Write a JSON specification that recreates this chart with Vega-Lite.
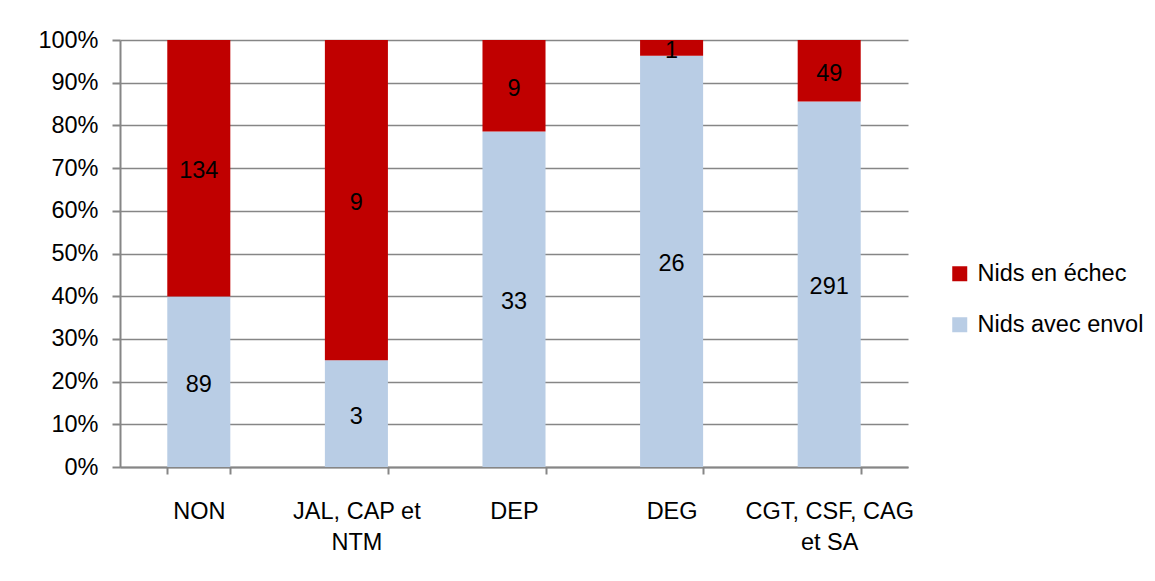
{
  "$schema": "https://vega.github.io/schema/vega-lite/v6.json",
  "autosize": {"type": "none"},
  "width": 788,
  "height": 427,
  "padding": {"left": 120, "top": 40, "right": 247, "bottom": 114},
  "background": "white",
  "config": {
    "view": {"stroke": null},
    "font": "Liberation Sans",
    "axis": {
      "labelFont": "Liberation Sans",
      "labelFontSize": 23.5,
      "labelColor": "#000000",
      "domainColor": "#868686",
      "tickColor": "#868686",
      "gridColor": "#868686",
      "domainWidth": 2,
      "tickWidth": 2,
      "gridWidth": 1.5,
      "title": null
    }
  },
  "data": {
    "values": [
      {"cat": "NON", "type": "Nids avec envol", "n": 89},
      {"cat": "NON", "type": "Nids en échec", "n": 134},
      {"cat": "JAL, CAP et NTM", "type": "Nids avec envol", "n": 3},
      {"cat": "JAL, CAP et NTM", "type": "Nids en échec", "n": 9},
      {"cat": "DEP", "type": "Nids avec envol", "n": 33},
      {"cat": "DEP", "type": "Nids en échec", "n": 9},
      {"cat": "DEG", "type": "Nids avec envol", "n": 26},
      {"cat": "DEG", "type": "Nids en échec", "n": 1},
      {"cat": "CGT, CSF, CAG et SA", "type": "Nids avec envol", "n": 291},
      {"cat": "CGT, CSF, CAG et SA", "type": "Nids en échec", "n": 49}
    ]
  },
  "transform": [
    {"stack": "n", "groupby": ["cat"], "sort": [{"field": "type", "order": "ascending"}], "offset": "normalize", "as": ["y0", "y1"]},
    {"calculate": "(datum.y0 + datum.y1) / 2", "as": "ymid"}
  ],
  "encoding": {
    "x": {
      "field": "cat",
      "type": "nominal",
      "sort": null,
      "scale": {"paddingInner": 0.6, "paddingOuter": 0.3},
      "axis": {
        "labelAngle": 0,
        "tickBand": "extent",
        "tickSize": 7,
        "labelPadding": 25,
        "labelLineHeight": 31,
        "labelBaseline": "top",
        "labelExpr": "datum.label == 'JAL, CAP et NTM' ? ['JAL, CAP et', 'NTM'] : datum.label == 'CGT, CSF, CAG et SA' ? ['CGT, CSF, CAG', 'et SA'] : datum.label"
      }
    }
  },
  "layer": [
    {
      "mark": {"type": "bar"},
      "encoding": {
        "y": {
          "field": "y0",
          "type": "quantitative",
          "scale": {"domain": [0, 1]},
          "axis": {
            "format": "%",
            "values": [0, 0.1, 0.2, 0.3, 0.4, 0.5, 0.6, 0.7, 0.8, 0.9, 1],
            "tickSize": 8,
            "labelPadding": 14,
            "grid": true
          }
        },
        "y2": {"field": "y1"},
        "color": {
          "field": "type",
          "type": "nominal",
          "scale": {"domain": ["Nids en échec", "Nids avec envol"], "range": ["#C00000", "#B9CDE5"]},
          "legend": {
            "title": null,
            "orient": "none",
            "legendX": 828,
            "legendY": 222,
            "symbolType": "square",
            "symbolSize": 225,
            "symbolStrokeWidth": 0,
            "labelFontSize": 23.5,
            "labelFont": "Liberation Sans",
            "labelColor": "#000000",
            "labelOffset": 6,
            "labelLimit": 400,
            "rowPadding": 26
          }
        }
      }
    },
    {
      "mark": {"type": "text", "fontSize": 23.5, "color": "#000000", "baseline": "middle", "dy": 3},
      "encoding": {
        "y": {"field": "ymid", "type": "quantitative"},
        "text": {"field": "n", "type": "quantitative"}
      }
    }
  ]
}
